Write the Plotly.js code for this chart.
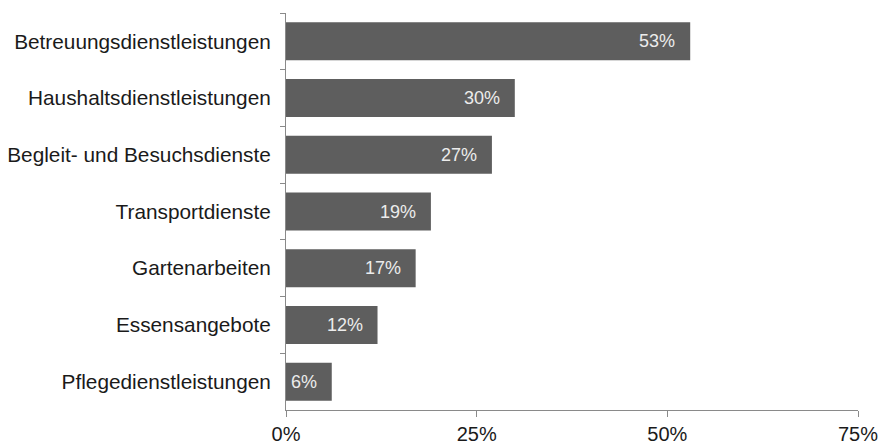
<!DOCTYPE html>
<html><head><meta charset="utf-8">
<script src="https://cdn.plot.ly/plotly-3.0.1.min.js"></script>
<style>html,body{margin:0;padding:0;background:#fff}</style>
</head><body><div id="chart" style="width:882px;height:446px"></div>
<script>
const categories = ["Betreuungsdienstleistungen","Haushaltsdienstleistungen","Begleit- und Besuchsdienste","Transportdienste","Gartenarbeiten","Essensangebote","Pflegedienstleistungen"];
const values = [53, 30, 27, 19, 17, 12, 6];
const tickVals = [0, 25, 50, 75];
const tickLabels = ["0%", "25%", "50%", "75%"];

const trace = {
  type: "bar", orientation: "h",
  x: values, y: categories,
  marker: {color: "#5e5e5e", line: {width: 0}},
  hoverinfo: "none"
};
const annotations = values.map((v, i) => ({
  x: v, y: categories[i], xref: "x", yref: "y",
  text: v + "%", showarrow: false, xanchor: "right", xshift: -13,
  font: {family: "Liberation Sans, Arial, sans-serif", size: 18, color: "#ececec"}
}));
const layout = {
  width: 882, height: 446,
  margin: {l: 286, r: 24, t: 13, b: 36, pad: 0},
  paper_bgcolor: "#fff", plot_bgcolor: "#fff",
  bargap: 0.33,
  showlegend: false,
  font: {family: "Liberation Sans, Arial, sans-serif", size: 20, color: "#1a1a1a"},
  xaxis: {
    range: [0, 75], tickvals: tickVals, ticktext: tickLabels,
    showgrid: false, zeroline: false, showline: true, linecolor: "#8a8a8a", linewidth: 1,
    ticks: "outside", ticklen: 6, tickcolor: "#8a8a8a", tickwidth: 1,
    tickfont: {size: 20, color: "#1a1a1a"}, fixedrange: true
  },
  yaxis: {
    autorange: "reversed", type: "category",
    showgrid: false, zeroline: false, showline: true, linecolor: "#8a8a8a", linewidth: 1,
    ticks: "outside", ticklen: 5, tickcolor: "#8a8a8a", tickwidth: 1, tickson: "boundaries",
    ticklabelstandoff: 10,
    tickfont: {size: 20.8, color: "#1a1a1a"}, fixedrange: true
  },
  annotations: annotations
};
Plotly.newPlot("chart", [trace], layout, {staticPlot: true, displayModeBar: false});
</script></body></html>
